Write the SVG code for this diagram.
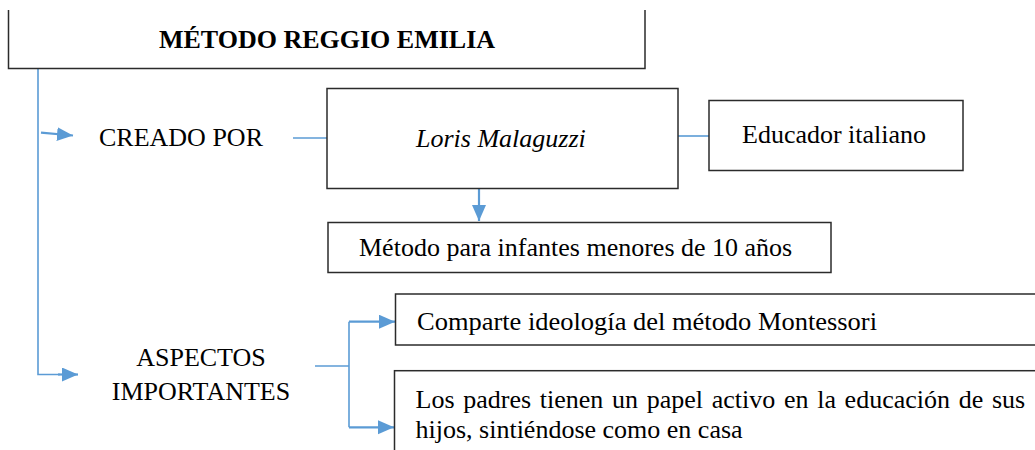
<svg xmlns="http://www.w3.org/2000/svg" width="1035" height="450" viewBox="0 0 1035 450">
  <style>
    .box { fill: #ffffff; stroke: #2b2b2b; stroke-width: 1.5; }
    .conn { fill: none; stroke: #5b9bd5; stroke-width: 1.6; }
    .arr { fill: none; stroke: #5b9bd5; stroke-width: 2.2; }
    .t { font-family: "Times New Roman", "Liberation Serif", serif; font-size: 26px; fill: #000000; }
  </style>
  <defs>
    <marker id="ah" markerUnits="userSpaceOnUse" markerWidth="18" markerHeight="16" refX="16" refY="7" orient="auto">
      <path d="M0,0 L16,7 L0,14 Z" fill="#5b9bd5"/>
    </marker>
  </defs>
  <rect width="1035" height="450" fill="#ffffff"/>

  <g id="connectors">
    <path class="conn" d="M38,68 V374.5 H60"/>
    <path class="arr" d="M58,374.5 H78" marker-end="url(#ah)"/>
    <path class="arr" d="M41,132.7 L73,135.5" marker-end="url(#ah)"/>
    <path class="conn" d="M293,138 H327"/>
    <path class="conn" d="M678,136 H709"/>
    <path class="arr" d="M479,188 V221" marker-end="url(#ah)"/>
    <path class="conn" d="M315,366 H349"/>
    <path class="conn" d="M349,321.7 V427.3"/>
    <path class="arr" d="M349,321.7 H395" marker-end="url(#ah)"/>
    <path class="arr" d="M349,427.3 H394" marker-end="url(#ah)"/>
  </g>

  <g id="title">
    <path d="M8.5,10 V68.5 H645 V10" fill="#ffffff" stroke="#2b2b2b" stroke-width="1.5"/>
    <text class="t" x="327" y="48" text-anchor="middle" font-weight="bold">MÉTODO REGGIO EMILIA</text>
  </g>

  <g id="creado">
    <text class="t" x="99" y="146">CREADO POR</text>
  </g>

  <g id="loris">
    <rect class="box" x="327" y="88.5" width="351" height="100"/>
    <text class="t" x="416" y="147" font-style="italic">Loris Malaguzzi</text>
  </g>

  <g id="educador">
    <rect class="box" x="709" y="100.5" width="254" height="70"/>
    <text class="t" x="742" y="143">Educador italiano</text>
  </g>

  <g id="metodo">
    <rect class="box" x="328" y="222.5" width="503" height="50"/>
    <text class="t" x="359" y="256">Método para infantes menores de 10 años</text>
  </g>

  <g id="aspectos">
    <text class="t" x="201" y="366" text-anchor="middle">ASPECTOS</text>
    <text class="t" x="201" y="399.5" text-anchor="middle">IMPORTANTES</text>
  </g>

  <g id="comparte">
    <rect class="box" x="395.5" y="294" width="660" height="51"/>
    <text class="t" x="417" y="330" textLength="460" lengthAdjust="spacingAndGlyphs">Comparte ideología del método Montessori</text>
  </g>

  <g id="padres">
    <rect class="box" x="394.5" y="370.7" width="660" height="100"/>
    <text class="t" x="415.5" y="408" word-spacing="2.2">Los padres tienen un papel activo en la educación de sus</text>
    <text class="t" x="415.5" y="438">hijos, sintiéndose como en casa</text>
  </g>
</svg>
